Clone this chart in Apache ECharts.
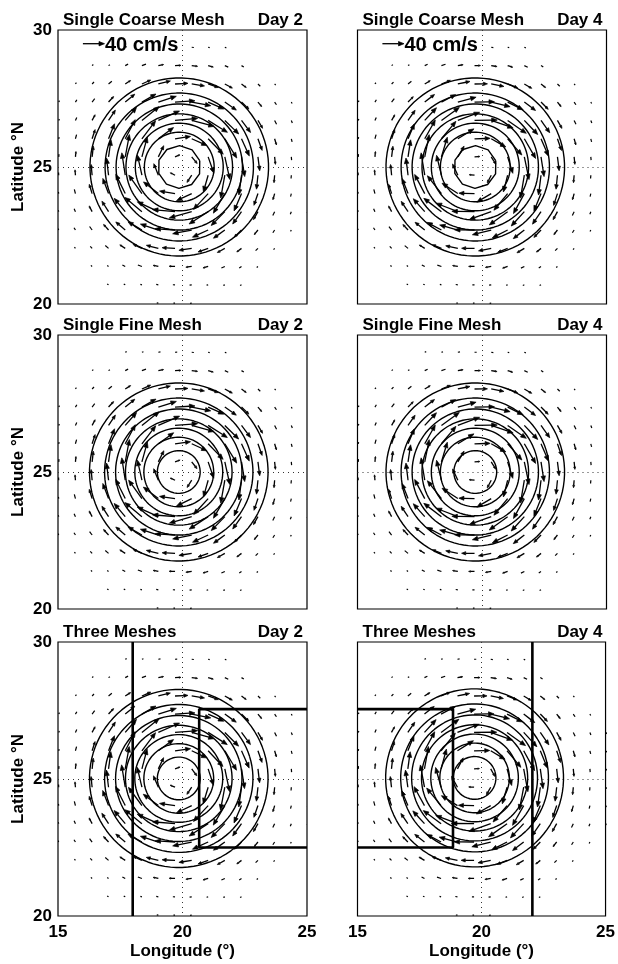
<!DOCTYPE html>
<html><head><meta charset="utf-8">
<script src="https://cdn.jsdelivr.net/npm/echarts@6/dist/echarts.min.js"></script>
<style>html,body{margin:0;padding:0;background:#fff}#c{width:618px;height:964px}</style>
</head><body><div id="c"></div>
<script>
// ---------- data ----------
const lonTicks = [15, 20, 25];
const latTicks = [20, 25, 30];
const panelTitles = ['Single Coarse Mesh','Single Coarse Mesh','Single Fine Mesh','Single Fine Mesh','Three Meshes','Three Meshes'];
const panelDays = ['Day 2','Day 4','Day 2','Day 4','Day 2','Day 4'];
const eddyLon = [19.87, 19.73, 19.85, 19.73, 19.85, 19.72];
const eddyLat = [25.0, 25.0, 25.0, 25.0, 25.02, 25.04];
// contour radii (degrees of latitude, i.e. true distance)
const contourRadii = [0.78, 1.27, 1.60, 1.94, 2.30, 2.70, 3.25];
// velocity grid
const lonGrid = [15.03,15.7,16.37,17.03,17.7,18.37,19.03,19.7,20.37,21.03,21.7,22.37,23.03,23.7,24.37,25.03];
const latGrid = [29.37,28.7,28.03,27.37,26.7,26.03,25.37,24.7,24.03,23.37,22.7,22.03,21.37,20.7,20.03];
// current speed (cm/s) at each grid node, north row first, 0 = no arrow
const speedRows = [
  [0, 0,0,0,2,3,4,4,4,3,3,0,0,0,0, 0],
  [0, 0,2,3,6,8,10,11,11,10,7,5,0,0,0, 0],
  [0, 2,5,8,12,18,23,24,24,20,16,11,6,3,0, 0],
  [2, 5,8,14,23,30,35,37,36,32,26,19,11,6,2, 0],
  [3, 6,12,23,32,41,43,42,43,42,36,28,17,8,5, 2],
  [3, 8,18,30,40,42,35,29,31,40,42,35,23,12,6, 2],
  [5, 10,20,32,42,38,23,10,16,32,43,37,26,14,6, 3],
  [5, 10,20,32,42,38,23,10,16,32,43,37,26,14,6, 3],
  [3, 8,18,30,40,42,35,29,31,40,42,35,23,12,6, 2],
  [3, 6,12,23,32,41,43,42,43,42,36,28,17,8,5, 2],
  [2, 5,8,14,23,30,35,37,36,32,26,19,11,6,2, 0],
  [0, 2,5,8,12,18,23,24,24,20,16,11,6,3,0, 0],
  [0, 0,2,3,6,8,10,11,11,10,7,5,3,0,0, 0],
  [0, 0,0,2,2,3,4,4,4,3,3,2,0,0,0, 0],
  [0, 0,0,0,0,0,2,2,2,0,0,0,0,0,0, 0]
];
// reference arrow [lon, lat, speed cm/s]
const refArrow = [16.0, 29.5, 40];
const refLabel = '40 cm/s';
// nested-mesh boundaries (thick lines) for the "Three Meshes" panels
const meshDay2 = [ [[18.0,20],[18.0,30]], [[25,27.55],[20.67,27.55],[20.67,22.5],[25,22.5]] ];
const meshDay4 = [ [[22.05,20],[22.05,30]], [[15,27.55],[18.85,27.55],[18.85,22.5],[15,22.5]] ];
const meshLines = [null, null, null, null, meshDay2, meshDay4];

// ---------- layout ----------
const FONT = '"Liberation Sans", Arial, Helvetica, sans-serif';
const colLeft = [58, 357.5];
const rowTop = [30, 335, 642];
const GW = 249, GH = 274;
const PX_PER_CMS = 0.54;
const COSLAT = Math.cos(25 * Math.PI / 180);

const chart = echarts.init(document.getElementById('c'), null, {renderer: 'canvas'});

const grids = [], xAxes = [], yAxes = [], series = [], graphic = [];

function arrowItem(params, api) {
  const p = api.coord([api.value(0), api.value(1)]);
  const dx = api.value(2) * PX_PER_CMS, dy = -api.value(3) * PX_PER_CMS;
  const len = Math.hypot(dx, dy);
  const ux = len ? dx / len : 1, uy = len ? dy / len : 0;
  const L = Math.max(len, 1.6);
  const tx = p[0] + ux * L, ty = p[1] + uy * L;
  const ch = [];
  if (len >= 5) {
    const h = Math.min(5.5, 0.32 * len), w = h * 0.4;
    const bx = tx - ux * h, by = ty - uy * h;
    ch.push({type: 'line', shape: {x1: p[0], y1: p[1], x2: bx, y2: by}, style: {stroke: '#000', lineWidth: 1.3}});
    ch.push({type: 'polygon', shape: {points: [[tx, ty], [bx - uy * w, by + ux * w], [bx + uy * w, by - ux * w]]}, style: {fill: '#000', stroke: '#000', lineWidth: 0.7}});
  } else {
    ch.push({type: 'line', shape: {x1: p[0], y1: p[1], x2: tx, y2: ty}, style: {stroke: '#000', lineWidth: 1.2}});
  }
  return {type: 'group', children: ch};
}

function refItem(params, api) {
  const g = arrowItem(params, api);
  const p = api.coord([api.value(0), api.value(1)]);
  const tip = p[0] + api.value(2) * PX_PER_CMS;
  g.children.push({type: 'text', style: {text: refLabel, x: tip + 0.5, y: p[1] + 1.5, font: 'bold 20px ' + FONT, fill: '#000', align: 'left', verticalAlign: 'middle', textAlign: 'left', textVerticalAlign: 'middle'}});
  return g;
}

for (let k = 0; k < 6; k++) {
  const col = k % 2, row = Math.floor(k / 2);
  const left = colLeft[col], top = rowTop[row];
  grids.push({left: left, top: top, width: GW, height: GH, show: true, borderColor: '#000', borderWidth: 1.2, backgroundColor: 'transparent'});
  const bottomRow = row === 2, leftCol = col === 0;
  xAxes.push({
    type: 'value', gridIndex: k, min: lonTicks[0], max: lonTicks[2], interval: lonTicks[1] - lonTicks[0],
    axisLine: {show: false}, axisTick: {show: false},
    axisLabel: {show: bottomRow, margin: 8, fontSize: 17, fontWeight: 'bold', fontFamily: FONT, color: '#000'},
    splitLine: {show: true, showMinLine: false, showMaxLine: false, lineStyle: {color: '#333', width: 1, type: [1, 4]}},
    name: bottomRow ? 'Longitude (°)' : '', nameLocation: 'middle', nameGap: 27,
    nameTextStyle: {fontSize: 17, fontWeight: 'bold', fontFamily: FONT, color: '#000'}
  });
  yAxes.push({
    type: 'value', gridIndex: k, min: latTicks[0], max: latTicks[2], interval: latTicks[1] - latTicks[0],
    axisLine: {show: false}, axisTick: {show: false},
    axisLabel: {show: leftCol, margin: 6, fontSize: 17, fontWeight: 'bold', fontFamily: FONT, color: '#000'},
    splitLine: {show: true, showMinLine: false, showMaxLine: false, lineStyle: {color: '#333', width: 1, type: [1, 4]}},
    name: leftCol ? 'Latitude °N' : '', nameLocation: 'middle', nameGap: 31,
    nameTextStyle: {fontSize: 17, fontWeight: 'bold', fontFamily: FONT, color: '#000'}
  });

  // contours
  const lon0 = eddyLon[k], lat0 = eddyLat[k];
  contourRadii.forEach((R, ri) => {
    const n = (ri === 0 && row === 0) ? 10 : 96;
    const pts = [];
    for (let i = 0; i <= n; i++) {
      const t = i / n * 2 * Math.PI + 0.3;
      pts.push([lon0 + R * Math.cos(t) / COSLAT, lat0 + R * Math.sin(t)]);
    }
    series.push({type: 'line', xAxisIndex: k, yAxisIndex: k, data: pts, showSymbol: false, symbol: 'none', silent: true, animation: false, clip: true,
      lineStyle: {color: '#000', width: 1.4}});
  });

  // arrows
  const arrows = [];
  latGrid.forEach((lat, i) => {
    lonGrid.forEach((lon, j) => {
      const s = speedRows[i][j];
      if (!s) return;
      const dxp = (lon - lon0) * COSLAT, dyp = lat - lat0;
      const r = Math.hypot(dxp, dyp) || 1;
      arrows.push([lon, lat, s * dyp / r, -s * dxp / r]);
    });
  });
  series.push({type: 'custom', xAxisIndex: k, yAxisIndex: k, data: arrows, renderItem: arrowItem, clip: true, silent: true, animation: false,
    dimensions: ['lon', 'lat', 'u', 'v'], encode: {x: 0, y: 1}});

  if (row === 0) {
    series.push({type: 'custom', xAxisIndex: k, yAxisIndex: k, data: [[refArrow[0], refArrow[1], refArrow[2], 0]], renderItem: refItem, silent: true, animation: false,
      dimensions: ['lon', 'lat', 'u', 'v'], encode: {x: 0, y: 1}});
  }

  if (meshLines[k]) {
    meshLines[k].forEach(seg => {
      series.push({type: 'line', xAxisIndex: k, yAxisIndex: k, data: seg, showSymbol: false, symbol: 'none', silent: true, animation: false,
        lineStyle: {color: '#000', width: 2.6}});
    });
  }

  // titles
  const ty = top - 9.5;
  graphic.push({type: 'text', x: left + 5, y: ty, style: {text: panelTitles[k], font: 'bold 17px ' + FONT, fill: '#000', align: 'left', verticalAlign: 'middle', textAlign: 'left', textVerticalAlign: 'middle'}});
  graphic.push({type: 'text', x: left + GW - 4, y: ty, style: {text: panelDays[k], font: 'bold 17px ' + FONT, fill: '#000', align: 'right', verticalAlign: 'middle', textAlign: 'right', textVerticalAlign: 'middle'}});
}

chart.setOption({
  animation: false,
  backgroundColor: '#fff',
  textStyle: {fontFamily: FONT},
  grid: grids, xAxis: xAxes, yAxis: yAxes, series: series, graphic: graphic
});
</script></body></html>
